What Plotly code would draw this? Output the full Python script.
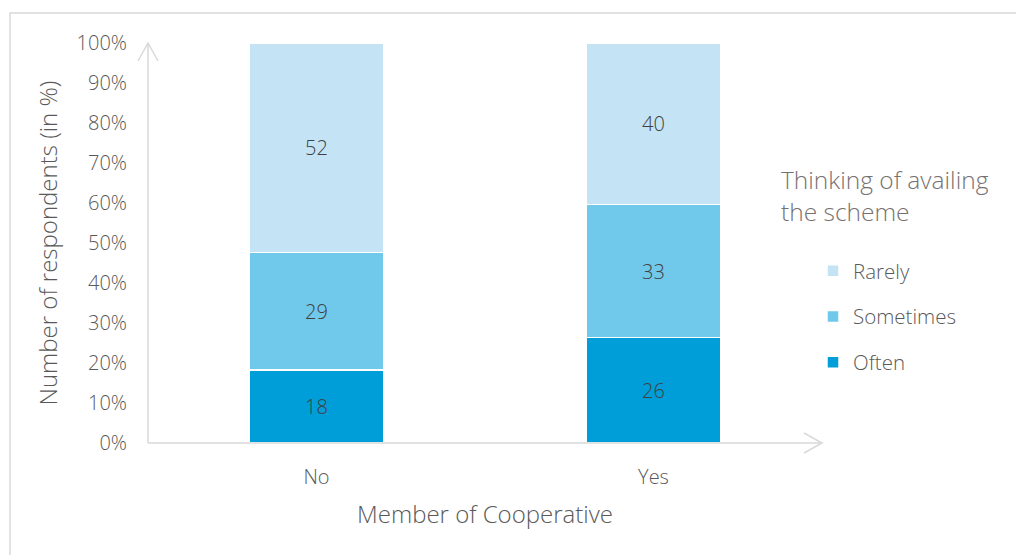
import plotly.graph_objects as go

categories = ["No", "Yes"]
often = [18.3, 26.4]
sometimes = [29.3, 33.2]
rarely = [52.4, 40.4]
y_ticks = [0, 10, 20, 30, 40, 50, 60, 70, 80, 90, 100]
y_tick_labels = [f"{v}%" for v in y_ticks]

FONT = "Open Sans"
GRAY = "#595959"
LINE = "#D9D9D9"
WGT = 300

W, H = 1016, 555
L, R, T, B = 148, W - 822, 43, H - 443
PW, PH = W - L - R, H - T - B

fig = go.Figure()
series = [("Often", often, "#009ED8", 3), ("Sometimes", sometimes, "#70C9EB", 2), ("Rarely", rarely, "#C4E4F5", 1)]
for name, vals, col, rank in series:
    fig.add_trace(go.Bar(
        x=categories, y=vals, name=name, legendgroup=name, legendrank=rank,
        marker=dict(color=col, line=dict(color="white", width=1.5)),
        texttemplate="%{y:.0f}", textposition="inside", insidetextanchor="middle",
        textfont=dict(family=FONT, size=20, color="#404040", weight=WGT),
        hoverinfo="skip", width=0.4,
    ))

def px_x(p):  # pixel to paper x
    return (p - L) / PW

def px_y(p):
    return (H - B - p) / PH

fig.update_layout(
    width=W, height=H,
    margin=dict(l=L, r=R, t=T, b=B),
    barmode="stack",
    paper_bgcolor="white", plot_bgcolor="white",
    font=dict(family=FONT, color=GRAY, weight=WGT),
    showlegend=True,
    legend=dict(
        x=px_x(813), y=px_y(251), xanchor="left", yanchor="top",
        traceorder="grouped", tracegroupgap=16,
        font=dict(family=FONT, size=20.5, color=GRAY, weight=WGT),
        bgcolor="rgba(0,0,0,0)",
    ),
    xaxis=dict(
        range=[-0.5, 1.5], showline=False, showgrid=False, zeroline=False,
        ticks="", tickfont=dict(family=FONT, size=20, color=GRAY, weight=WGT),
        ticklabelstandoff=20,
        title=dict(text="Member of Cooperative", font=dict(family=FONT, size=24, color=GRAY, weight=WGT), standoff=17),
    ),
    yaxis=dict(
        range=[0, 100], showline=False, showgrid=False, zeroline=False,
        tickvals=y_ticks, ticktext=y_tick_labels,
        ticks="", tickfont=dict(family=FONT, size=20, color=GRAY, weight=WGT),
        ticklabelstandoff=20,
        title=dict(text="Number of respondents (in %)", font=dict(family=FONT, size=24, color=GRAY, weight=WGT), standoff=12),
    ),
)

shapes = []
# outer border
shapes.append(dict(type="rect", xref="paper", yref="paper",
                   x0=px_x(10), x1=px_x(1030), y0=px_y(13), y1=px_y(570),
                   line=dict(color=LINE, width=1.5), fillcolor="rgba(0,0,0,0)", layer="below"))
# y axis line with open arrow
shapes.append(dict(type="line", xref="paper", yref="paper", x0=0, x1=0, y0=0, y1=1,
                   line=dict(color=LINE, width=1.5)))
shapes.append(dict(type="path", xref="paper", yref="paper",
                   path=f"M {px_x(138)},{px_y(61)} L 0,1 L {px_x(158)},{px_y(61)}",
                   line=dict(color=LINE, width=1.5)))
# x axis line with open arrow
shapes.append(dict(type="line", xref="paper", yref="paper", x0=0, x1=1, y0=0, y1=0,
                   line=dict(color=LINE, width=1.5)))
shapes.append(dict(type="path", xref="paper", yref="paper",
                   path=f"M {px_x(804)},{px_y(433)} L 1,0 L {px_x(804)},{px_y(453)}",
                   line=dict(color=LINE, width=1.5)))
fig.update_layout(shapes=shapes)

fig.add_annotation(
    xref="paper", yref="paper", x=px_x(779), y=px_y(196),
    xanchor="left", yanchor="middle", align="left", showarrow=False,
    text="Thinking of availing<br>the scheme",
    font=dict(family=FONT, size=24.5, color="#767171", weight=WGT),
)

fig.write_html("out.html")
